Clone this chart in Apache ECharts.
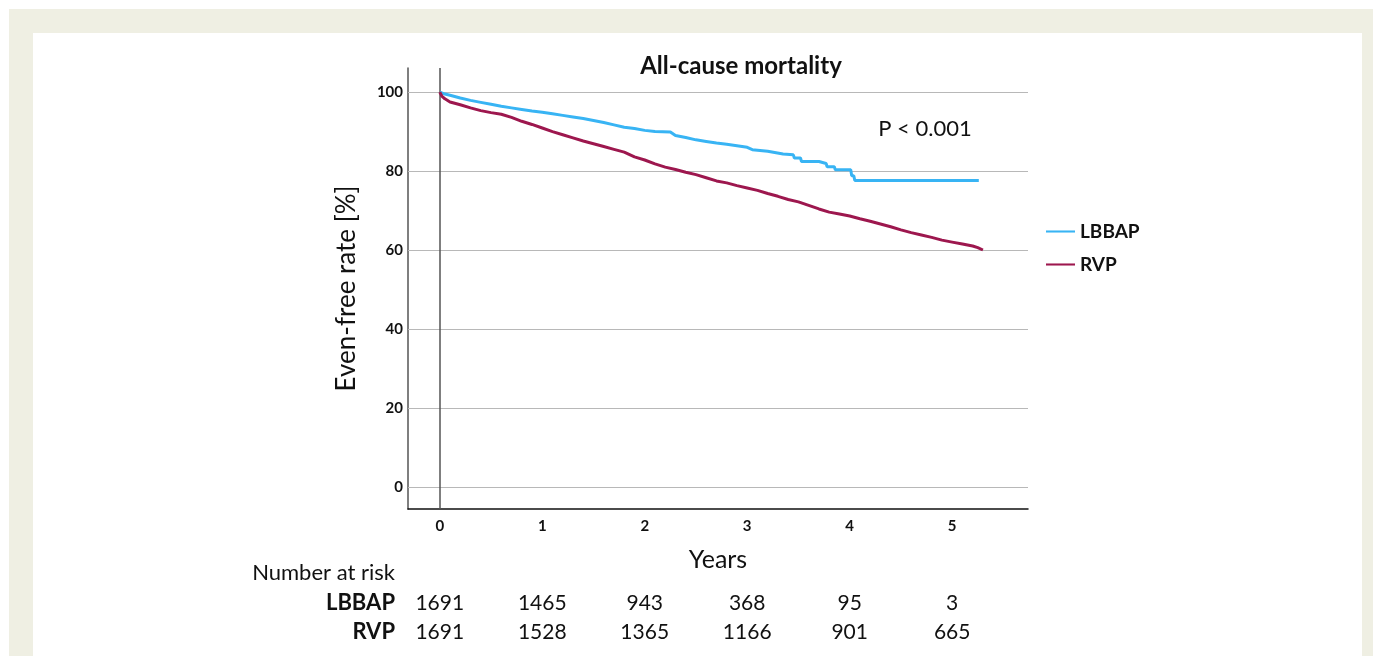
<!DOCTYPE html>
<html>
<head>
<meta charset="utf-8">
<script src="https://cdn.jsdelivr.net/npm/echarts@6/dist/echarts.min.js"></script>
<style>
  html, body { margin: 0; padding: 0; background: #fff; }
  #chart { width: 1373px; height: 656px; }
</style>
</head>
<body>
<div id="chart"></div>
<script>
// Kaplan-Meier estimates (years, % event-free)
const lbbapTime = [0, 0.05, 0.1, 0.2, 0.3, 0.4, 0.5, 0.6, 0.7, 0.8, 0.9, 1.0, 1.1, 1.2, 1.3, 1.4, 1.5, 1.6, 1.7, 1.8, 1.9, 2.0, 2.1, 2.25, 2.3, 2.4, 2.5, 2.6, 2.7, 2.8, 2.9, 3.0, 3.05, 3.2, 3.35, 3.45, 3.46, 3.52, 3.53, 3.7, 3.71, 3.77, 3.78, 3.85, 3.86, 4.01, 4.02, 4.04, 4.05, 5.26];
const lbbapSurv = [100, 99.5, 99.2, 98.5, 97.9, 97.4, 96.9, 96.4, 96.0, 95.6, 95.2, 94.9, 94.5, 94.1, 93.7, 93.3, 92.8, 92.3, 91.7, 91.1, 90.8, 90.3, 90.0, 89.9, 89.0, 88.5, 87.9, 87.5, 87.1, 86.8, 86.4, 86.0, 85.4, 85.0, 84.3, 84.1, 83.3, 83.3, 82.4, 82.4, 81.9, 81.9, 81.1, 81.1, 80.3, 80.3, 78.8, 78.8, 77.6, 77.6];

const rvpTime = [0, 0.02, 0.05, 0.1, 0.2, 0.3, 0.4, 0.5, 0.6, 0.7, 0.8, 0.9, 1.0, 1.1, 1.2, 1.3, 1.4, 1.5, 1.6, 1.7, 1.8, 1.9, 2.0, 2.1, 2.2, 2.3, 2.4, 2.5, 2.6, 2.7, 2.8, 2.9, 3.0, 3.1, 3.2, 3.3, 3.4, 3.5, 3.6, 3.7, 3.8, 3.9, 4.0, 4.1, 4.2, 4.3, 4.4, 4.5, 4.6, 4.7, 4.8, 4.9, 5.0, 5.1, 5.2, 5.25, 5.3];
const rvpSurv = [100, 99.0, 98.3, 97.5, 96.8, 96.0, 95.3, 94.8, 94.4, 93.6, 92.6, 91.8, 90.9, 90.0, 89.2, 88.4, 87.6, 86.9, 86.2, 85.5, 84.8, 83.6, 82.8, 81.8, 81.0, 80.4, 79.7, 79.1, 78.3, 77.5, 77.0, 76.3, 75.7, 75.1, 74.3, 73.6, 72.8, 72.2, 71.3, 70.4, 69.6, 69.1, 68.6, 67.9, 67.3, 66.6, 65.9, 65.1, 64.4, 63.8, 63.2, 62.5, 62.0, 61.5, 61.0, 60.6, 60.0];

const xTicks = [0, 1, 2, 3, 4, 5];
const yTicks = [0, 20, 40, 60, 80, 100];

const riskGroups = ["LBBAP", "RVP"];
const riskLBBAP = [1691, 1465, 943, 368, 95, 3];
const riskRVP = [1691, 1528, 1365, 1166, 901, 665];

const FONT = "Lato";
const BLUE = "#38b4f4";
const RED = "#9d174e";

function zip(a, b) {
  return a.map(function (t, i) { return [t, b[i]]; });
}

let chart = echarts.init(document.getElementById("chart"));

let gridLines = yTicks.map(function (v) {
  return { yAxis: v, lineStyle: { color: "#b8b8b8", width: 1, type: "solid" } };
});
gridLines.push({ xAxis: 0, lineStyle: { color: "#555", width: 1.5, type: "solid" } });

let option = {
  animation: false,
  backgroundColor: "#fff",
  textStyle: { fontFamily: FONT },
  title: {
    text: "All-cause mortality",
    left: 736,
    top: 49,
    textAlign: "center",
    textStyle: { fontFamily: FONT, fontSize: 24, fontWeight: "bold", color: "#111" },
  },
  grid: { left: 408, right: 345, top: 68, bottom: 147 },
  legend: {
    orient: "vertical",
    left: 1046,
    top: 222,
    padding: 0,
    itemWidth: 29,
    itemHeight: 14,
    itemGap: 14,
    icon: "path://M0,6 L28,6 L28,8 L0,8 Z",
    textStyle: { fontFamily: FONT, fontSize: 19, fontWeight: "bold", color: "#111" },
    data: riskGroups,
  },
  xAxis: {
    type: "value",
    min: -0.31,
    max: 5.74,
    name: "Years",
    nameLocation: "middle",
    nameGap: 38,
    nameTextStyle: { fontFamily: FONT, fontSize: 25, color: "#111" },
    axisLine: { show: true, onZero: false, lineStyle: { color: "#111", width: 1.5 } },
    axisTick: { show: false },
    splitLine: { show: false },
    axisLabel: {
      customValues: xTicks,
      margin: 10,
      fontFamily: FONT,
      fontSize: 15,
      fontWeight: "bold",
      color: "#111",
    },
  },
  yAxis: {
    type: "value",
    min: -5.6,
    max: 106.1,
    name: "Even-free rate [%]",
    nameLocation: "middle",
    nameGap: 48,
    nameRotate: 90,
    nameTextStyle: { fontFamily: FONT, fontSize: 26, color: "#111" },
    axisLine: { show: true, onZero: false, lineStyle: { color: "#555", width: 1.5 } },
    axisTick: { show: false },
    splitLine: { show: false },
    axisLabel: {
      customValues: yTicks,
      margin: 5,
      fontFamily: FONT,
      fontSize: 15,
      fontWeight: "bold",
      color: "#111",
    },
  },
  series: [
    {
      name: "LBBAP",
      type: "line",
      symbol: "none",
      z: 3,
      color: BLUE,
      lineStyle: { color: BLUE, width: 3 },
      data: zip(lbbapTime, lbbapSurv),
    },
    {
      name: "RVP",
      type: "line",
      symbol: "none",
      z: 3,
      color: RED,
      lineStyle: { color: RED, width: 3 },
      data: zip(rvpTime, rvpSurv),
      markLine: {
        silent: true,
        symbol: "none",
        label: { show: false },
        z: 1,
        data: gridLines,
      },
    },
  ],
};

chart.setOption(option);

// frame + p value + number-at-risk table
let graphics = [
  { type: "rect", z: -10, shape: { x: 9, y: 9, width: 1364, height: 647 }, style: { fill: "#efefe3" } },
  { type: "rect", z: -9, shape: { x: 33, y: 33, width: 1329, height: 623 }, style: { fill: "#fff" } },
  {
    type: "text", x: 925, y: 129,
    style: { text: "P < 0.001", font: "22px " + FONT, fill: "#111", align: "center", verticalAlign: "middle" },
  },
  {
    type: "text", x: 395, y: 573,
    style: { text: "Number at risk", font: "22px " + FONT, fill: "#111", align: "right", verticalAlign: "middle" },
  },
];
let rows = [riskLBBAP, riskRVP];
riskGroups.forEach(function (g, r) {
  let y = 603 + r * 29;
  graphics.push({
    type: "text", x: 395, y: y,
    style: { text: g, font: "bold 22px " + FONT, fill: "#111", align: "right", verticalAlign: "middle" },
  });
  rows[r].forEach(function (n, i) {
    let px = chart.convertToPixel({ xAxisIndex: 0 }, xTicks[i]);
    graphics.push({
      type: "text", x: px, y: y,
      style: { text: String(n), font: "21px " + FONT, fill: "#111", align: "center", verticalAlign: "middle" },
    });
  });
});
chart.setOption({ graphic: graphics });
</script>
</body>
</html>
